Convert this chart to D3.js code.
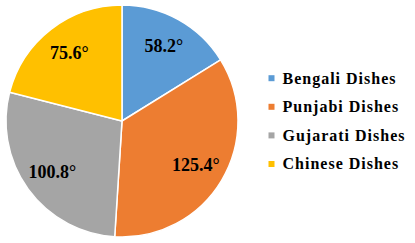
<!DOCTYPE html>
<html><head><meta charset="utf-8">
<script src="https://cdn.jsdelivr.net/npm/d3@7"></script>
<style>html,body{margin:0;padding:0;background:#fff;}svg{display:block;}
text{font-family:"Liberation Serif","Times New Roman",serif;font-weight:bold;}</style>
</head><body>
<svg id="chart" width="415" height="243"></svg>
<script>
const categories = ["Bengali Dishes", "Punjabi Dishes", "Gujarati Dishes", "Chinese Dishes"];
const values = [58.2, 125.4, 100.8, 75.6];
const labels = ["58.2°", "125.4°", "100.8°", "75.6°"];
const colors = ["#5B9BD5", "#ED7D31", "#A5A5A5", "#FFC000"];

const svg = d3.select("#chart");
const cx = 122, cy = 121, R = 116;
const data = categories.map((c, i) => ({cat: c, value: values[i], label: labels[i], color: colors[i]}));

const pie = d3.pie().value(d => d.value).sort(null).startAngle(0).endAngle(2 * Math.PI);
const arc = d3.arc().innerRadius(0).outerRadius(R);
const labelArc = d3.arc().innerRadius(86).outerRadius(86);

const g = svg.append("g").attr("transform", `translate(${cx},${cy})`);
const arcs = pie(data);
g.selectAll("path").data(arcs).enter().append("path")
  .attr("d", arc)
  .attr("fill", d => d.data.color)
  .attr("stroke", "#fff")
  .attr("stroke-width", 1.5)
  .attr("stroke-linejoin", "round");

g.selectAll("text.lbl").data(arcs).enter().append("text")
  .attr("class", "lbl")
  .attr("x", d => labelArc.centroid(d)[0])
  .attr("y", d => labelArc.centroid(d)[1])
  .attr("dy", "0.35em")
  .attr("text-anchor", "middle")
  .style("font-size", "18px")
  .attr("fill", "#000")
  .text(d => d.data.label);

const legendY = d3.scalePoint().domain(categories).range([83.5, 169.3]);
const lg = svg.append("g");
lg.selectAll("rect").data(data).enter().append("rect")
  .attr("x", 268.5)
  .attr("y", d => legendY(d.cat) - 8.3)
  .attr("width", 6).attr("height", 6)
  .attr("fill", d => d.color);
lg.selectAll("text").data(data).enter().append("text")
  .attr("x", 282.5)
  .attr("y", d => legendY(d.cat))
  .style("font-size", "16px")
  .style("letter-spacing", "1px")
  .attr("fill", "#000")
  .text(d => d.cat);
</script>
</body></html>
